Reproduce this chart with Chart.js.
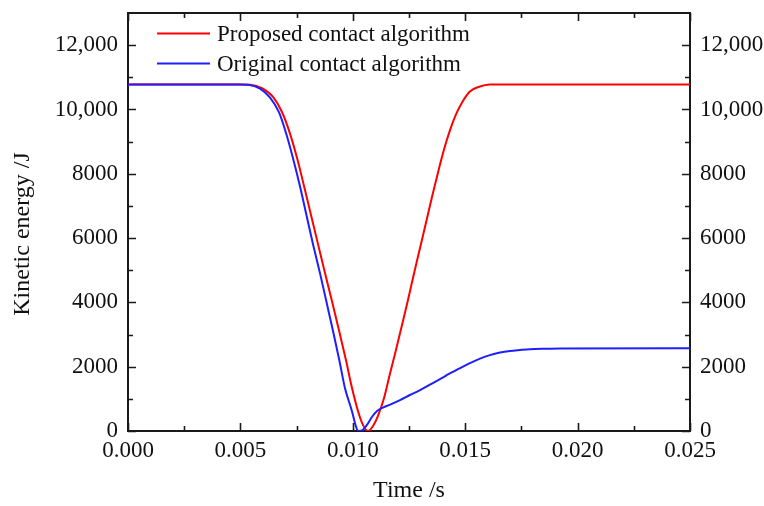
<!DOCTYPE html>
<html>
<head>
<meta charset="utf-8">
<script src="https://cdn.jsdelivr.net/npm/chart.js@4.4.1/dist/chart.umd.min.js"></script>
<style>
  html, body { margin: 0; padding: 0; background: #fff; }
  #wrap { width: 764px; height: 506px; }
</style>
</head>
<body>
<div id="wrap"><canvas id="c" width="764" height="506"></canvas></div>
<script>
// ---- Data ----
const seriesNames = ['Proposed contact algorithm', 'Original contact algorithm'];

const proposedTime = [0, 0.00498, 0.00543, 0.00596, 0.00645, 0.00685, 0.00721, 0.00752, 0.00783, 0.00814, 0.00845, 0.00876, 0.00908, 0.00939, 0.00970, 0.00996, 0.01023, 0.01045, 0.01068,
  0.01090, 0.01112, 0.01139, 0.01165, 0.01192, 0.01219, 0.01246, 0.01272, 0.01299, 0.01326, 0.01352, 0.01379, 0.01406, 0.01432, 0.01459, 0.01486, 0.01521, 0.01566, 0.01610, 0.01650, 0.025];
const proposedEnergy = [10780, 10780, 10770, 10660, 10390, 9920, 9240, 8490, 7620, 6720, 5820, 4920, 4020, 3120, 2190, 1350, 620, 190, 0,
  155, 470, 1025, 1770, 2520, 3300, 4090, 4890, 5690, 6490, 7270, 8040, 8760, 9350, 9845, 10220, 10560, 10715, 10775, 10780, 10780];

const originalTime = [0, 0.00498, 0.00534, 0.00587, 0.00632, 0.00672, 0.00705, 0.00734, 0.00765, 0.00794, 0.00823, 0.00854, 0.00883, 0.00912, 0.00941, 0.00965, 0.00996, 0.01012, 0.01023,
  0.01041, 0.01063, 0.01085, 0.01108, 0.01134, 0.01166, 0.01210, 0.01254, 0.01299, 0.01343, 0.01388, 0.01432, 0.01477, 0.01521, 0.01566, 0.01610, 0.01655, 0.01699, 0.01744, 0.01788, 0.01855, 0.01922, 0.025];
const originalEnergy = [10780, 10780, 10770, 10650, 10370, 9910, 9220, 8480, 7610, 6710, 5810, 4910, 4010, 3110, 2170, 1340, 620, 190, 0,
  16, 190, 435, 620, 730, 820, 960, 1120, 1270, 1440, 1615, 1790, 1955, 2110, 2250, 2360, 2440, 2490, 2520, 2545, 2560, 2568, 2570];

const xTickValues = [0, 0.005, 0.010, 0.015, 0.020, 0.025];
const xTickLabels = ['0.000', '0.005', '0.010', '0.015', '0.020', '0.025'];
const xMinorValues = [0.0025, 0.0075, 0.0125, 0.0175, 0.0225];
const yTickValues = [0, 2000, 4000, 6000, 8000, 10000, 12000];
const yTickLabels = ['0', '2000', '4000', '6000', '8000', '10,000', '12,000'];
const yMinorValues = [1000, 3000, 5000, 7000, 9000, 11000];

const xTitle = 'Time /s';
const yTitle = 'Kinetic energy /J';

// ---- Chart ----
const FONT = "'Liberation Serif', 'Times New Roman', serif";
const AXIS = '#1a1a1a';
const RED = 'rgb(255,0,0)';
const BLUE = 'rgb(30,30,255)';

function toPoints(xs, ys) { return xs.map((x, i) => ({ x: x, y: ys[i] })); }

const tickMarks = {
  id: 'tickMarks',
  afterDraw(chart) {
    const ctx = chart.ctx;
    const a = chart.chartArea;
    const xs = chart.scales.x, ys = chart.scales.y;
    ctx.save();
    ctx.strokeStyle = AXIS;
    ctx.lineWidth = 1.6;
    ctx.beginPath();
    const drawX = (vals, len) => vals.forEach(v => {
      const p = Math.round(xs.getPixelForValue(v)) + 0.5;
      ctx.moveTo(p, a.bottom); ctx.lineTo(p, a.bottom - len);
      ctx.moveTo(p, a.top); ctx.lineTo(p, a.top + len);
    });
    const drawY = (vals, len) => vals.forEach(v => {
      const p = Math.round(ys.getPixelForValue(v)) + 0.5;
      ctx.moveTo(a.left, p); ctx.lineTo(a.left + len, p);
      ctx.moveTo(a.right, p); ctx.lineTo(a.right - len, p);
    });
    drawX(xTickValues, 8); drawX(xMinorValues, 5);
    drawY(yTickValues, 8); drawY(yMinorValues, 5);
    ctx.stroke();

    // y axis title (slightly below the plot centre, as in the reference)
    ctx.save();
    ctx.font = "24px " + FONT;
    ctx.fillStyle = '#111';
    ctx.textAlign = 'center';
    ctx.textBaseline = 'middle';
    ctx.translate(22.4, (a.top + a.bottom) / 2 + 12);
    ctx.rotate(-Math.PI / 2);
    ctx.fillText(yTitle, 0, 0);
    ctx.restore();

    // legend
    const rows = [{ name: seriesNames[0], color: RED, y: 33.5 }, { name: seriesNames[1], color: BLUE, y: 63.5 }];
    ctx.font = "23px " + FONT;
    ctx.textBaseline = 'middle';
    ctx.textAlign = 'left';
    rows.forEach(r => {
      ctx.strokeStyle = r.color;
      ctx.lineWidth = 2;
      ctx.beginPath();
      ctx.moveTo(157, r.y); ctx.lineTo(210, r.y);
      ctx.stroke();
      ctx.fillStyle = '#111';
      ctx.fillText(r.name, 217, r.y + 1);
    });
    ctx.restore();
  }
};

const tickFont = { family: FONT, size: 23 };
const titleFont = { family: FONT, size: 24 };

new Chart(document.getElementById('c'), {
  type: 'line',
  data: {
    datasets: [
      { label: seriesNames[0], data: toPoints(proposedTime, proposedEnergy), borderColor: RED, borderWidth: 2, pointRadius: 0, cubicInterpolationMode: 'monotone', fill: false, order: 2 },
      { label: seriesNames[1], data: toPoints(originalTime, originalEnergy), borderColor: BLUE, borderWidth: 2, pointRadius: 0, cubicInterpolationMode: 'monotone', fill: false, order: 1 }
    ]
  },
  options: {
    responsive: false,
    devicePixelRatio: 1,
    animation: false,
    layout: { padding: 0 },
    plugins: { legend: { display: false }, tooltip: { enabled: false } },
    scales: {
      x: {
        type: 'linear', position: 'bottom', min: 0, max: 0.025,
        afterBuildTicks: s => { s.ticks = xTickValues.map(v => ({ value: v })); },
        afterFit: s => { s.height = 75; s.paddingLeft = 0; s.paddingRight = 0; },
        ticks: { font: tickFont, color: '#111', padding: 6, maxRotation: 0, autoSkip: false,
                 callback: (v, i) => xTickLabels[i] },
        grid: { drawOnChartArea: false, drawTicks: false },
        border: { display: true, color: AXIS, width: 2 },
        title: { display: true, text: xTitle, font: titleFont, color: '#111', padding: { top: 0, bottom: 1 } }
      },
      x2: {
        type: 'linear', position: 'top', min: 0, max: 0.025,
        afterFit: s => { s.height = 13; s.paddingLeft = 0; s.paddingRight = 0; },
        ticks: { display: false },
        grid: { drawOnChartArea: false, drawTicks: false },
        border: { display: true, color: AXIS, width: 2 }
      },
      y: {
        type: 'linear', position: 'left', min: 0, max: 13000,
        afterBuildTicks: s => { s.ticks = yTickValues.map(v => ({ value: v })); },
        afterFit: s => { s.width = 128; s.paddingTop = 0; s.paddingBottom = 0; },
        ticks: { font: tickFont, color: '#111', padding: 10, autoSkip: false,
                 callback: (v, i) => yTickLabels[i] },
        grid: { drawOnChartArea: false, drawTicks: false },
        border: { display: true, color: AXIS, width: 2 },
        title: { display: false, text: yTitle }
      },
      y2: {
        type: 'linear', position: 'right', min: 0, max: 13000,
        afterBuildTicks: s => { s.ticks = yTickValues.map(v => ({ value: v })); },
        afterFit: s => { s.width = 74; s.paddingTop = 0; s.paddingBottom = 0; },
        ticks: { font: tickFont, color: '#111', padding: 10, autoSkip: false,
                 callback: (v, i) => yTickLabels[i] },
        grid: { drawOnChartArea: false, drawTicks: false },
        border: { display: true, color: AXIS, width: 2 }
      }
    }
  },
  plugins: [tickMarks]
});
</script>
</body>
</html>
